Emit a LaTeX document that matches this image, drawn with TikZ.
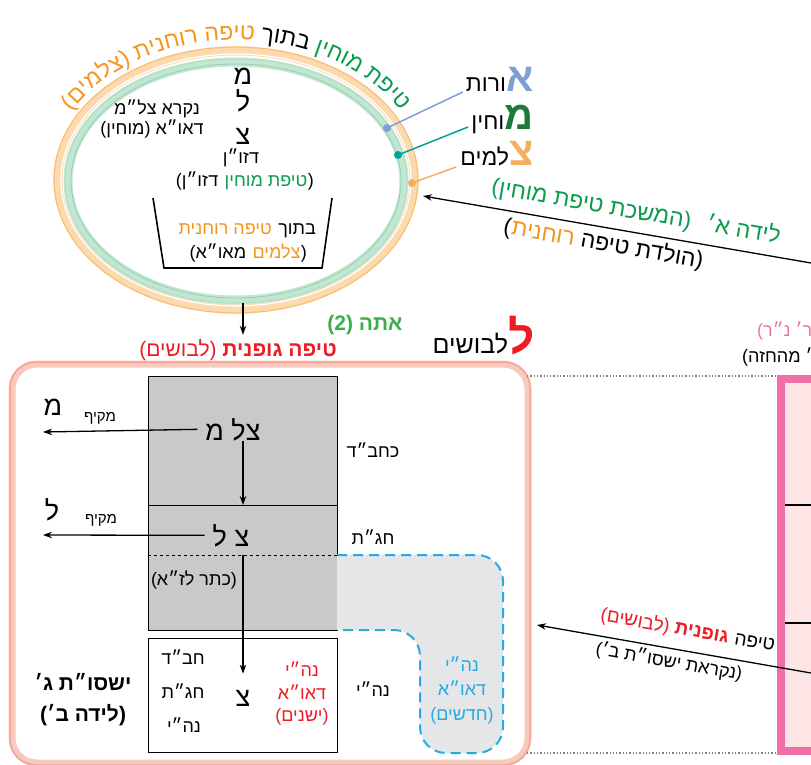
\documentclass[tikz,border=0pt]{standalone}
\usepackage{fontspec}
\usetikzlibrary{arrows.meta,decorations.text}
\TeXXeTstate=1
\newfontfamily\heb[Script=Hebrew]{Liberation Sans}
\newcommand\ringfont{\heb\fontsize{23}{26}\selectfont}
\newcommand\gap{\rule{6pt}{0pt}}

\definecolor{rimorange}{HTML}{F7941D}
\definecolor{mgreen}{HTML}{0C9B4B}
\definecolor{agreen}{HTML}{3DAE49}
\definecolor{dgreen}{HTML}{1B7A3A}
\definecolor{lblue}{HTML}{7E9FD3}
\definecolor{tealm}{HTML}{00A19A}
\definecolor{lorange}{HTML}{F3AF5F}
\definecolor{hred}{HTML}{ED1C24}
\definecolor{hpink}{HTML}{F06FA8}
\definecolor{pinkfill}{HTML}{FDE5E6}
\definecolor{salmon}{HTML}{F4A592}
\definecolor{dblue}{HTML}{27AAE1}
\definecolor{boxgray}{HTML}{C8C9CB}
\definecolor{lgray}{HTML}{E5E6E8}

\tikzset{
  lbl/.style={font=\heb\fontsize{18}{21}\selectfont, inner sep=0pt},
  lblsm/.style={font=\heb\fontsize{15}{18}\selectfont, inner sep=0pt},
  lblbig/.style={font=\heb\fontsize{27}{30}\selectfont, inner sep=0pt},
  initial/.style={font=\heb\bfseries\fontsize{40}{44}\selectfont, inner sep=0pt, anchor=base east},
  rest/.style={font=\heb\fontsize{23}{26}\selectfont, inner sep=0pt, anchor=base east},
  onarrow/.style={font=\heb\fontsize{23}{26}\selectfont, inner sep=0pt, rotate=-9.8},
  arr/.style={-{Stealth[length=9pt,width=6.5pt]}, line width=1.3pt},
}

\begin{document}
\begin{tikzpicture}[x=1pt,y=-1pt]
  \useasboundingbox (0,0) rectangle (811,765);
  \clip (0,0) rectangle (811,765);

  % the ring
  \draw[rimorange!35, line width=9] (236,180) ellipse[x radius=178, y radius=129];
  \draw[rimorange!60, line width=1.2] (236,180) ellipse[x radius=182, y radius=133];
  \draw[white, line width=1.2] (236,180) ellipse[x radius=175, y radius=126];
  \draw[mgreen!25, line width=9] (236,181) ellipse[x radius=168, y radius=119];
  \draw[mgreen!45, line width=0.8] (236,181) ellipse[x radius=165, y radius=117];
  \draw[mgreen!35, line width=0.6] (236,181) ellipse[x radius=171, y radius=122];

  \path[decorate, decoration={text along path, text align=center,
      text={|\ringfont\color{rimorange}|)םימלצ( תינחור הפיט |\ringfont\color{black}|ךותב |\ringfont\color{mgreen}|ןיחומ תפיט}}]
    (236,180) ++(160:189 and 140) arc[start angle=160, end angle=380, x radius=189, y radius=140];

  % inside the ring
  \node[lbl, anchor=base] (nikra) at (157,115) {\beginR נקרא צל״מ\endR};
  \node[lbl, anchor=base] (daoa) at (152,135) {\beginR דאו״א (מוחין)\endR};
  \node[lblbig, anchor=base] (colM) at (243,85) {\beginR מ\endR};
  \node[lblbig, anchor=base] (colL) at (243,112) {\beginR ל\endR};
  \node[lblbig, anchor=base] (colZ) at (243,145) {\beginR צ\endR};
  \node[lbl, anchor=base] (dzon) at (241,164) {\beginR דזו״ן\endR};
  \node[lbl, anchor=base east] (tipdzonA) at (314,186) {\beginR(\endR};
  \node[lbl, anchor=base east, text=mgreen] (tipdzonB) at (tipdzonA.base west) {\beginR טיפת מוחין\endR};
  \node[lbl, anchor=base east] (tipdzonC) at (tipdzonB.base west) {\beginR דזו״ן)\endR\gap};
  \draw[line width=1.6] (153,198) -- (164,268) -- (322,268) -- (332,198);
  \node[lbl, anchor=base east] (betochA) at (316,234) {\beginR בתוך\endR};
  \node[lbl, anchor=base east, text=rimorange] (betochB) at (betochA.base west) {\beginR טיפה רוחנית\endR\gap};
  \node[lbl, anchor=base east] (zlmA) at (307,258) {\beginR(\endR};
  \node[lbl, anchor=base east, text=rimorange] (zlmB) at (zlmA.base west) {\beginR צלמים\endR};
  \node[lbl, anchor=base east] (zlmC) at (zlmB.base west) {\beginR מאו״א)\endR\gap};

  % initials at the right
  \node[initial, text=lblue] (initA) at (534,92) {\beginR א\endR};
  \node[rest] (lblA) at (initA.base west) {\beginR ורות\endR};
  \node[initial, text=dgreen] (initM) at (534,130) {\beginR מ\endR};
  \node[rest] (lblM) at (initM.base west) {\beginR וחין\endR};
  \node[initial, text=lorange] (initZ) at (534,165) {\beginR צ\endR};
  \node[rest] (lblZ) at (initZ.base west) {\beginR למים\endR};
  \coordinate (dotA) at (387,128);
  \coordinate (dotM) at (398,155);
  \coordinate (dotZ) at (412,183);
  \draw[lblue, line width=1.5] (dotA) -- ([xshift=-3pt]lblA.base west);
  \draw[tealm, line width=1.5] (dotM) -- ([xshift=-3pt,yshift=3pt]lblM.base west);
  \draw[lorange, line width=1.5] (dotZ) -- ([xshift=-4pt,yshift=-2pt]lblZ.base west);
  \fill[lblue] (dotA) circle (4);
  \fill[tealm] (dotM) circle (4);
  \fill[lorange] (dotZ) circle (4);

  % first birth
  \coordinate (lidaA) at (811,263);
  \coordinate (rimpt) at (423,196);
  \draw[arr] (lidaA) -- (rimpt);
  \node[onarrow, text=mgreen] (hemshech) at (636,212) {\beginR לידה א׳\hspace{16pt}(המשכת טיפת מוחין)\endR};
  \node[onarrow, anchor=base east] (holedetA) at (702,268) {\beginR(הולדת טיפה\endR};
  \node[onarrow, anchor=base east, text=rimorange] (holedetB) at (holedetA.base west) {\beginR רוחנית\endR\gap};
  \node[onarrow, anchor=base east] (holedetC) at (holedetB.base west) {\beginR)\endR};

  % down to the body drop
  \coordinate (ellbot) at (243,303);
  \node[font=\heb\bfseries\fontsize{21}{24}\selectfont, text=agreen, anchor=base, inner sep=0pt] (ata) at (365,330) {\beginR אתה (2)\endR};
  \node[font=\heb\fontsize{21}{24}\selectfont, text=hred, anchor=base, inner sep=0pt] (tipgof) at (238,356)
    {\beginR{\bfseries טיפה גופנית} (לבושים)\endR};
  \draw[arr] (ellbot) -- ([yshift=4pt]ellbot |- tipgof.north);
  \node[initial, text=hred, font=\heb\bfseries\fontsize{46}{50}\selectfont] (initL) at (535,353) {\beginR ל\endR};
  \node[rest, font=\heb\fontsize{25}{28}\selectfont] (lblL) at (initL.base west) {\beginR לבושים\endR};

  % the frame of the body drop
  \draw[salmon!60, line width=7, rounded corners=25] (12,364) rectangle (528,763);
  \draw[salmon, line width=1.5, rounded corners=26] (10,362) rectangle (530,765);

  \node[draw, line width=1.2, fill=boxgray, minimum width=189pt, minimum height=129pt, anchor=north west, inner sep=0pt] (box1) at (148,376) {};
  \node[draw, line width=1.2, fill=boxgray, minimum width=189pt, minimum height=125pt, anchor=north west, inner sep=0pt] (box2) at (148,505) {};
  \node[draw, line width=1.2, fill=white, minimum width=189pt, minimum height=114pt, anchor=north west, inner sep=0pt] (box3) at (148,638) {};
  \coordinate (ketery) at (148,555);
  \draw[dashed, line width=0.9] (ketery) -- (ketery -| box2.east);

  \fill[lgray, rounded corners=26] (337,555) -- (503,555) -- (503,753) -- (420,753) -- (420,630) -- (337,630);
  \draw[dblue, dash pattern=on 10pt off 6pt, line width=2, rounded corners=26] (337,555) -- (503,555) -- (503,753) -- (420,753) -- (420,630) -- (337,630);

  % surrounding lights
  \node[lblbig, anchor=base] (zlm) at (233,440) {\beginR צל מ\endR};
  \node[lblbig, anchor=base] (zl) at (231,546) {\beginR צ ל\endR};
  \node[lblbig, anchor=base] (tsb3) at (243,706) {\beginR צ\endR};
  \coordinate (colx) at (243,0);
  \coordinate (mkifM) at (43,432);
  \coordinate (mkifL) at (43,535);
  \draw[arr] ([xshift=-8pt]zlm.west) -- (mkifM);
  \draw[arr] ([xshift=-8pt]zl.west) -- (mkifL);
  \draw[arr] (colx |- zlm.south) -- (colx |- box2.north);
  \draw[arr] (colx |- ketery) -- ([yshift=16pt]colx |- tsb3.north);
  \node[lblbig, anchor=base] (bigM) at (53,415) {\beginR מ\endR};
  \node[lblsm, anchor=base] (mkif1) at (100,421) {\beginR מקיף\endR};
  \node[lblbig, anchor=base] (bigL) at (52,520) {\beginR ל\endR};
  \node[lblsm, anchor=base] (mkif2) at (101,523) {\beginR מקיף\endR};
  \node[lbl, anchor=base] (keter) at (194,585) {\beginR(כתר לז״א)\endR};

  % the sfirot
  \node[lbl, anchor=base] (kchbd) at (373,457) {\beginR כחב״ד\endR};
  \node[lbl, anchor=base] (chgt1) at (373,544) {\beginR חג״ת\endR};
  \node[lbl, anchor=base] (nhy1) at (373,696) {\beginR נה״י\endR};
  \node[lbl, anchor=base] (chbd3) at (183,664) {\beginR חב״ד\endR};
  \node[lbl, anchor=base] (chgt3) at (183,698) {\beginR חג״ת\endR};
  \node[lbl, anchor=base] (nhy3) at (184,732) {\beginR נה״י\endR};
  \node[lbl, anchor=base, text=hred] (nhyold) at (302,676) {\beginR נה״י\endR};
  \node[lbl, anchor=base, text=hred] (daoaold) at (302,699) {\beginR דאו״א\endR};
  \node[lbl, anchor=base, text=hred] (yeshanim) at (302,721) {\beginR(ישנים)\endR};
  \node[lbl, anchor=base, text=dblue] (nhynew) at (462,671) {\beginR נה״י\endR};
  \node[lbl, anchor=base, text=dblue] (daoanew) at (462,695) {\beginR דאו״א\endR};
  \node[lbl, anchor=base, text=dblue] (chadashim) at (462,720) {\beginR(חדשים)\endR};
  \node[font=\heb\bfseries\fontsize{21}{24}\selectfont, anchor=base, inner sep=0pt] (yishsut) at (83,690) {\beginR ישסו״ת ג׳\endR};
  \node[font=\heb\bfseries\fontsize{21}{24}\selectfont, anchor=base, inner sep=0pt] (lidaB) at (83,721) {\beginR(לידה ב׳)\endR};

  % the pink column at the right
  \draw[hpink, line width=8, fill=pinkfill] (781,379) rectangle (840,751);
  \draw[line width=1.2] (785,505) -- (811,505);
  \draw[line width=1.2] (785,623) -- (811,623);
  \coordinate (dotTop) at (527,376);
  \coordinate (dotBot) at (527,753);
  \draw[gray, dotted, line width=1.3] (dotTop) -- (777,376);
  \draw[gray, dotted, line width=1.3] (dotBot) -- (777,753);
  \node[lbl, text=hpink, anchor=base west] (nrsrc) at (757,336) {\beginR(ספר ר׳ נ״ר)\endR};
  \node[lbl, anchor=base west] (mehaz) at (742,362) {\beginR(חלק ב׳ מהחזה)\endR};

  % second birth
  \coordinate (lidaB2) at (811,673);
  \coordinate (framept) at (537,625);
  \draw[arr] (lidaB2) -- (framept);
  \node[onarrow, font=\heb\fontsize{19}{22}\selectfont, anchor=base east] (tipgofA) at (774,651) {\beginR טיפה\endR};
  \node[onarrow, font=\heb\fontsize{19}{22}\selectfont, anchor=base east, text=hred] (tipgofB) at (tipgofA.base west)
    {\beginR{\bfseries גופנית} (לבושים)\endR\gap};
  \node[onarrow, font=\heb\fontsize{18}{21}\selectfont] (nikreat) at (669,662) {\beginR(נקראת ישסו״ת ב׳)\endR};
\end{tikzpicture}
\end{document}
